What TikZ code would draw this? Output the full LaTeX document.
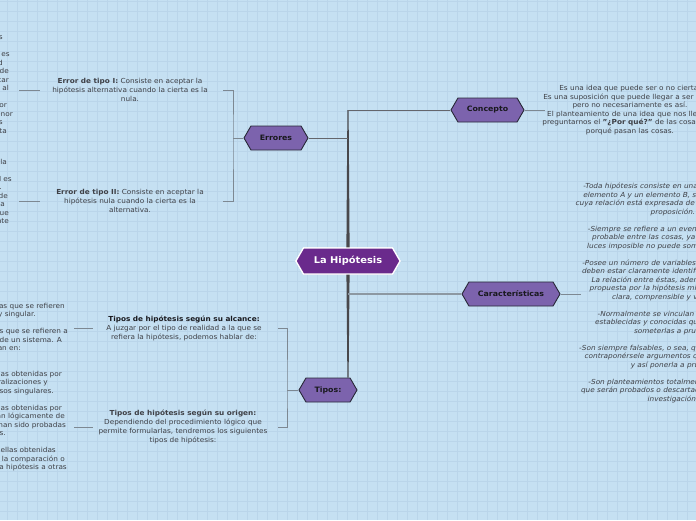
\documentclass[tikz,border=0pt]{standalone}
\usepackage{fontspec}
\setmainfont{DejaVu Sans}[FakeStretch=1.06]
\usetikzlibrary{shapes.symbols,calc}
\definecolor{bg}{RGB}{197,224,242}
\definecolor{gridc}{RGB}{186,213,234}
\definecolor{mainfill}{RGB}{106,42,140}
\definecolor{subfill}{RGB}{124,99,173}
\definecolor{subdraw}{RGB}{40,40,55}
\definecolor{txt}{RGB}{62,64,70}
\definecolor{ttl}{RGB}{25,25,30}
\definecolor{trunk}{RGB}{72,72,76}
\definecolor{branch}{RGB}{100,102,108}
\definecolor{stub}{RGB}{125,136,146}
\definecolor{carline}{RGB}{140,152,162}
\newcommand\padR[1]{\rule{#1}{0pt}}
\begin{document}
\begin{tikzpicture}[x=1pt,y=-1pt,
  hexbase/.style={shape=signal, signal to=west and east, signal pointer angle=120, inner xsep=0pt, inner ysep=0pt},
  mainhex/.style={hexbase, fill=mainfill, draw=white, line width=1.2pt, text=white, font=\fontsize{9.3}{11}\selectfont\bfseries, minimum width=104pt, minimum height=26pt},
  subhex/.style={hexbase, fill=subfill, draw=subdraw, line width=0.9pt, text=ttl, font=\fontsize{7.4}{9}\selectfont\bfseries, minimum height=24pt},
  body/.style={align=center, text=txt, font=\fontsize{6.9}{8.5}\selectfont, inner sep=0pt, execute at begin node=\strut, execute at end node=\strut},
  bodyw/.style={body, font=\fontsize{6.9}{9}\selectfont},
  frag/.style={body, align=right, anchor=east},
  branchline/.style={draw=branch, line width=0.9pt},
  stubline/.style={draw=stub, line width=0.8pt},
  carstyle/.style={draw=carline, line width=1.6pt},
  gridline/.style={draw=gridc, line width=0.6pt}
]
\useasboundingbox (0,0) rectangle (696,520);
\fill[bg] (0,0) rectangle (696,520);
\clip (0,0) rectangle (696,520);
\foreach \i in {7,17,...,696} \draw[gridline] (\i,0) -- (\i,520);
\foreach \j in {1.7,11.7,...,520} \draw[gridline] (0,\j) -- (696,\j);

% central and main topic nodes
\node[mainhex] (hyp) at (348,261) {La Hipótesis};
\node[subhex, minimum width=73pt] (concepto) at (487.5,110) {Concepto};
\node[subhex, minimum width=64pt] (errores) at (276,138) {Errores};
\node[subhex, minimum width=98pt] (caract) at (511,294) {Características};
\node[subhex, minimum width=58pt] (tipos) at (328,390) {Tipos:};

% trunk (tapered)
\fill[trunk] ($(concepto.west -| hyp)+(-0.6,0)$) -- ($(concepto.west -| hyp)+(0.6,0)$)
  -- ($(hyp.center)+(1.7,0)$) -- ($(hyp.center)+(-1.7,0)$) -- cycle;
\fill[trunk] ($(tipos.north -| hyp)+(-0.6,0)$) -- ($(tipos.north -| hyp)+(0.6,0)$)
  -- ($(hyp.center)+(1.7,0)$) -- ($(hyp.center)+(-1.7,0)$) -- cycle;
\draw[branchline] (concepto.west -| hyp) -- (concepto.west);
\draw[branchline] (errores.east) -- (errores.east -| hyp);
\draw[carstyle] (caract.west -| hyp) -- (caract.west);
% redraw central node on top of trunk
\node[mainhex] (hyp2) at (hyp) {La Hipótesis};

% Concepto text
\node[body] (tcon) at (630,110.5) {Es una idea que puede ser o no cierta.\\
Es una suposición que puede llegar a ser cierta\\
pero no necesariamente es así.\\
El planteamiento de una idea que nos lleva a\\
preguntarnos el \textbf{"¿Por qué?"} de las cosas, y el\\
porqué pasan las cosas.};
\coordinate (conS) at (545,110);
\draw[stubline] (concepto.east) -- (conS);

% Caracteristicas text
\node[body, font=\fontsize{6.9}{8.5}\selectfont\itshape] (tcar) at (673,293.5) {-Toda hipótesis consiste en una relación entre un\\
elemento A y un elemento B, separados entre sí,\\
cuya relación está expresada de forma lógica en una\\
proposición.\\
~\\
-Siempre se refiere a un evento real, posible o\\
probable entre las cosas, ya que lo que es a\\
luces imposible no puede someterse a prueba.\\
~\\
-Posee un número de variables determinado, que\\
deben estar claramente identificadas y definidas.\\
La relación entre éstas, además, debe ser la\\
propuesta por la hipótesis misma, de manera\\
clara, comprensible y verificable.\\
~\\
-Normalmente se vinculan con teorías ya\\
establecidas y conocidas que permiten así\\
someterlas a prueba.\\
~\\
-Son siempre falsables, o sea, que pueden siempre\\
contraponérsele argumentos que la desmientan\\
y así ponerla a prueba.\\
~\\
-Son planteamientos totalmente provisionales\\
que serán probados o descartados a lo largo de la\\
investigación.};
\coordinate (carS) at (581,294);
\draw[stubline] (caract.east) -- (carS);

% Errores texts
\node[bodyw] (te1) at (130,91) {\textbf{Error de tipo I:} Consiste en aceptar la\\
hipótesis alternativa cuando la cierta es la\\
nula.};
\node[bodyw] (te2) at (130,202) {\textbf{Error de tipo II:} Consiste en aceptar la\\
hipótesis nula cuando la cierta es la\\
alternativa.};
\coordinate (e1R) at (223,90);
\coordinate (e2R) at (223,201);
\coordinate (eB) at (233,138);
\draw[stubline] (e1R) -| (eB) |- (e2R);
\draw[stubline] (eB) -- (errores.west);

% left fragments for errores
\node[frag] (fe1) at (13,85.8) {s\padR{10pt}\\ ~\\ es\padR{3pt}\\ d\padR{10pt}\\ de\padR{4pt}\\ car\padR{4pt}\\ al\padR{4pt}\\ ~\\ or\padR{6pt}\\ enor\\ s\padR{10pt}\\ ta\padR{6pt}};
\node[frag] (fe2) at (12,192.4) {la\padR{5pt}\\ ~\\ I es\\ .\padR{10pt}\\ de\padR{4pt}\\ a\padR{7pt}\\ que\padR{3pt}\\ nte\padR{3pt}};
\coordinate (e1a) at (19,90); \coordinate (e1b) at (40,90);
\coordinate (e2a) at (19,201); \coordinate (e2b) at (40,201);
\draw[stubline] (e1a) -- (e1b);
\draw[stubline] (e2a) -- (e2b);

% Tipos texts
\node[bodyw] (tta) at (184,329) {{\color{ttl}\textbf{Tipos de hipótesis según su alcance:}}\\
A juzgar por el tipo de realidad a la que se\\
refiera la hipótesis, podemos hablar de:};
\node[bodyw] (tto) at (183,427.5) {\textbf{Tipos de hipótesis según su origen:}\\
Dependiendo del procedimiento lógico que\\
permite formularlas, tendremos los siguientes\\
tipos de hipótesis:};
\coordinate (t1R) at (278,328);
\coordinate (t2R) at (278,427);
\coordinate (tB) at (287,390);
\draw[stubline] (t1R) -| (tB) |- (t2R);
\draw[stubline] (tB) -- (tipos.west);

% left fragments for tipos
\node[frag] (fta) at (68,328.3) {las que se refieren\padR{3pt}\\ y singular.\padR{32pt}\\ ~\\ as que se refieren a\\ o de un sistema. A\padR{6pt}\\ an en:\padR{47pt}};
\node[frag] (fto) at (67,421.8) {llas obtenidas por\padR{5pt}\\ eralizaciones y\padR{19pt}\\ asos singulares.\padR{13pt}\\ ~\\ ellas obtenidas por\padR{5pt}\\ ran lógicamente de\padR{2pt}\\ han sido probadas\padR{1pt}\\ s.\padR{61pt}\\ ~\\ uellas obtenidas\padR{11pt}\\ r la comparación o\padR{2pt}\\ na hipótesis a otras};
\coordinate (ta1) at (74,328); \coordinate (ta2) at (93,328);
\coordinate (to1) at (74,427); \coordinate (to2) at (93,427);
\draw[stubline] (ta1) -- (ta2);
\draw[stubline] (to1) -- (to2);
\end{tikzpicture}
\end{document}
